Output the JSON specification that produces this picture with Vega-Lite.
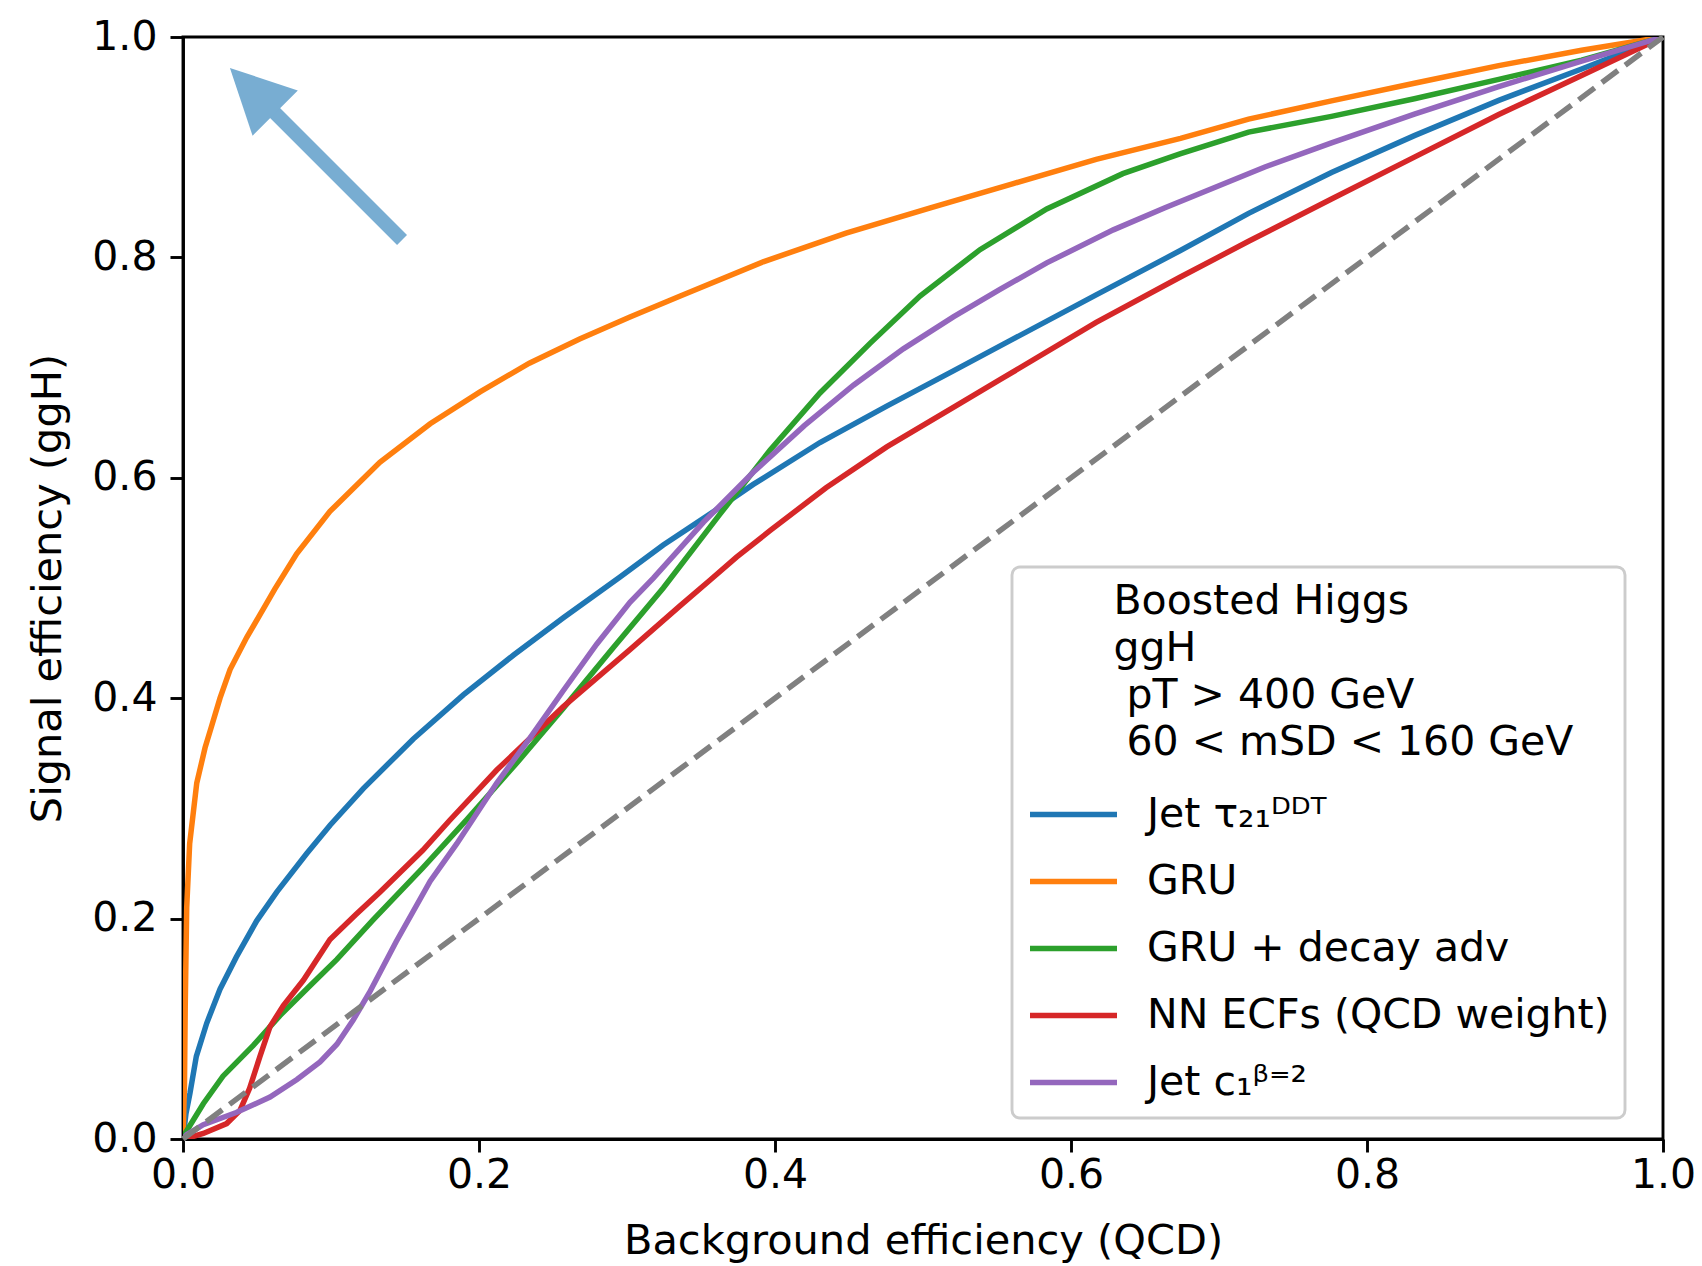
{
  "$schema": "https://vega.github.io/schema/vega-lite/v6.json",
  "width": 1480,
  "height": 1102,
  "autosize": {"type": "none"},
  "padding": {"left": 183, "top": 37, "right": 39, "bottom": 127},
  "background": "white",
  "config": {
    "font": "DejaVu Sans",
    "view": {"stroke": "black", "strokeWidth": 2.9},
    "axis": {
      "domainColor": "black", "domainWidth": 2.9,
      "tickColor": "black", "tickWidth": 2.9, "tickSize": 13,
      "labelFont": "DejaVu Sans", "labelFontSize": 41, "labelColor": "black",
      "titleFont": "DejaVu Sans", "titleFontSize": 41.5, "titleFontWeight": "normal", "titleColor": "black",
      "grid": false, "labelFlush": false, "labelOverlap": false
    },
    "legend": {
      "labelFont": "DejaVu Sans", "titleFont": "DejaVu Sans", "strokeWidth": 2.9
    }
  },
  "datasets": {
    "roc": [
      {"model": "Jet τ₂₁ᴰᴰᵀ", "x": 0, "y": 0},
      {"model": "Jet τ₂₁ᴰᴰᵀ", "x": 0.002, "y": 0.023},
      {"model": "Jet τ₂₁ᴰᴰᵀ", "x": 0.0047, "y": 0.0415},
      {"model": "Jet τ₂₁ᴰᴰᵀ", "x": 0.009, "y": 0.075},
      {"model": "Jet τ₂₁ᴰᴰᵀ", "x": 0.016, "y": 0.105},
      {"model": "Jet τ₂₁ᴰᴰᵀ", "x": 0.025, "y": 0.136},
      {"model": "Jet τ₂₁ᴰᴰᵀ", "x": 0.036, "y": 0.165},
      {"model": "Jet τ₂₁ᴰᴰᵀ", "x": 0.0498, "y": 0.198},
      {"model": "Jet τ₂₁ᴰᴰᵀ", "x": 0.0633, "y": 0.224},
      {"model": "Jet τ₂₁ᴰᴰᵀ", "x": 0.0836, "y": 0.259},
      {"model": "Jet τ₂₁ᴰᴰᵀ", "x": 0.0995, "y": 0.285},
      {"model": "Jet τ₂₁ᴰᴰᵀ", "x": 0.1218, "y": 0.318},
      {"model": "Jet τ₂₁ᴰᴰᵀ", "x": 0.1556, "y": 0.363},
      {"model": "Jet τ₂₁ᴰᴰᵀ", "x": 0.1894, "y": 0.403},
      {"model": "Jet τ₂₁ᴰᴰᵀ", "x": 0.2232, "y": 0.439},
      {"model": "Jet τ₂₁ᴰᴰᵀ", "x": 0.257, "y": 0.473},
      {"model": "Jet τ₂₁ᴰᴰᵀ", "x": 0.2953, "y": 0.51},
      {"model": "Jet τ₂₁ᴰᴰᵀ", "x": 0.3245, "y": 0.539},
      {"model": "Jet τ₂₁ᴰᴰᵀ", "x": 0.356, "y": 0.567},
      {"model": "Jet τ₂₁ᴰᴰᵀ", "x": 0.3853, "y": 0.594},
      {"model": "Jet τ₂₁ᴰᴰᵀ", "x": 0.4304, "y": 0.632},
      {"model": "Jet τ₂₁ᴰᴰᵀ", "x": 0.4755, "y": 0.665},
      {"model": "Jet τ₂₁ᴰᴰᵀ", "x": 0.5205, "y": 0.697},
      {"model": "Jet τ₂₁ᴰᴰᵀ", "x": 0.561, "y": 0.726},
      {"model": "Jet τ₂₁ᴰᴰᵀ", "x": 0.617, "y": 0.766},
      {"model": "Jet τ₂₁ᴰᴰᵀ", "x": 0.6736, "y": 0.806},
      {"model": "Jet τ₂₁ᴰᴰᵀ", "x": 0.72, "y": 0.84},
      {"model": "Jet τ₂₁ᴰᴰᵀ", "x": 0.776, "y": 0.877},
      {"model": "Jet τ₂₁ᴰᴰᵀ", "x": 0.832, "y": 0.9105},
      {"model": "Jet τ₂₁ᴰᴰᵀ", "x": 0.889, "y": 0.9425},
      {"model": "Jet τ₂₁ᴰᴰᵀ", "x": 0.945, "y": 0.971},
      {"model": "Jet τ₂₁ᴰᴰᵀ", "x": 1, "y": 1},

      {"model": "GRU", "x": 0, "y": 0},
      {"model": "GRU", "x": 0.001, "y": 0.05},
      {"model": "GRU", "x": 0.0015, "y": 0.12},
      {"model": "GRU", "x": 0.0025, "y": 0.21},
      {"model": "GRU", "x": 0.0045, "y": 0.268},
      {"model": "GRU", "x": 0.0093, "y": 0.323},
      {"model": "GRU", "x": 0.0149, "y": 0.355},
      {"model": "GRU", "x": 0.0194, "y": 0.375},
      {"model": "GRU", "x": 0.025, "y": 0.4},
      {"model": "GRU", "x": 0.0318, "y": 0.426},
      {"model": "GRU", "x": 0.043, "y": 0.455},
      {"model": "GRU", "x": 0.0543, "y": 0.481},
      {"model": "GRU", "x": 0.062, "y": 0.499},
      {"model": "GRU", "x": 0.0768, "y": 0.531},
      {"model": "GRU", "x": 0.0993, "y": 0.5695},
      {"model": "GRU", "x": 0.133, "y": 0.614},
      {"model": "GRU", "x": 0.167, "y": 0.649},
      {"model": "GRU", "x": 0.2007, "y": 0.678},
      {"model": "GRU", "x": 0.234, "y": 0.704},
      {"model": "GRU", "x": 0.268, "y": 0.726},
      {"model": "GRU", "x": 0.302, "y": 0.746},
      {"model": "GRU", "x": 0.336, "y": 0.765},
      {"model": "GRU", "x": 0.392, "y": 0.796},
      {"model": "GRU", "x": 0.448, "y": 0.822},
      {"model": "GRU", "x": 0.505, "y": 0.845},
      {"model": "GRU", "x": 0.561, "y": 0.867},
      {"model": "GRU", "x": 0.617, "y": 0.889},
      {"model": "GRU", "x": 0.674, "y": 0.908},
      {"model": "GRU", "x": 0.72, "y": 0.9255},
      {"model": "GRU", "x": 0.776, "y": 0.942},
      {"model": "GRU", "x": 0.832, "y": 0.958},
      {"model": "GRU", "x": 0.889, "y": 0.974},
      {"model": "GRU", "x": 0.945, "y": 0.988},
      {"model": "GRU", "x": 1, "y": 1},

      {"model": "GRU + decay adv", "x": 0, "y": 0},
      {"model": "GRU + decay adv", "x": 0.0014, "y": 0.005},
      {"model": "GRU + decay adv", "x": 0.0137, "y": 0.032},
      {"model": "GRU + decay adv", "x": 0.027, "y": 0.057},
      {"model": "GRU + decay adv", "x": 0.0475, "y": 0.085},
      {"model": "GRU + decay adv", "x": 0.0655, "y": 0.112},
      {"model": "GRU + decay adv", "x": 0.0858, "y": 0.139},
      {"model": "GRU + decay adv", "x": 0.104, "y": 0.163},
      {"model": "GRU + decay adv", "x": 0.1286, "y": 0.199},
      {"model": "GRU + decay adv", "x": 0.162, "y": 0.246},
      {"model": "GRU + decay adv", "x": 0.1916, "y": 0.2895},
      {"model": "GRU + decay adv", "x": 0.2254, "y": 0.341},
      {"model": "GRU + decay adv", "x": 0.257, "y": 0.391},
      {"model": "GRU + decay adv", "x": 0.2908, "y": 0.446},
      {"model": "GRU + decay adv", "x": 0.3245, "y": 0.5},
      {"model": "GRU + decay adv", "x": 0.3628, "y": 0.567},
      {"model": "GRU + decay adv", "x": 0.3966, "y": 0.625},
      {"model": "GRU + decay adv", "x": 0.4304, "y": 0.677},
      {"model": "GRU + decay adv", "x": 0.4642, "y": 0.722},
      {"model": "GRU + decay adv", "x": 0.498, "y": 0.765},
      {"model": "GRU + decay adv", "x": 0.5385, "y": 0.807},
      {"model": "GRU + decay adv", "x": 0.5836, "y": 0.844},
      {"model": "GRU + decay adv", "x": 0.635, "y": 0.876},
      {"model": "GRU + decay adv", "x": 0.6736, "y": 0.894},
      {"model": "GRU + decay adv", "x": 0.72, "y": 0.9137},
      {"model": "GRU + decay adv", "x": 0.776, "y": 0.928},
      {"model": "GRU + decay adv", "x": 0.832, "y": 0.944},
      {"model": "GRU + decay adv", "x": 0.889, "y": 0.9616},
      {"model": "GRU + decay adv", "x": 0.945, "y": 0.979},
      {"model": "GRU + decay adv", "x": 1, "y": 1},

      {"model": "NN ECFs (QCD weight)", "x": 0, "y": 0},
      {"model": "NN ECFs (QCD weight)", "x": 0.0036, "y": 0.001},
      {"model": "NN ECFs (QCD weight)", "x": 0.0137, "y": 0.005},
      {"model": "NN ECFs (QCD weight)", "x": 0.0295, "y": 0.014},
      {"model": "NN ECFs (QCD weight)", "x": 0.0385, "y": 0.026},
      {"model": "NN ECFs (QCD weight)", "x": 0.045, "y": 0.046},
      {"model": "NN ECFs (QCD weight)", "x": 0.052, "y": 0.075},
      {"model": "NN ECFs (QCD weight)", "x": 0.0588, "y": 0.102},
      {"model": "NN ECFs (QCD weight)", "x": 0.0678, "y": 0.121},
      {"model": "NN ECFs (QCD weight)", "x": 0.0813, "y": 0.144},
      {"model": "NN ECFs (QCD weight)", "x": 0.0993, "y": 0.181},
      {"model": "NN ECFs (QCD weight)", "x": 0.117, "y": 0.204},
      {"model": "NN ECFs (QCD weight)", "x": 0.133, "y": 0.224},
      {"model": "NN ECFs (QCD weight)", "x": 0.162, "y": 0.262},
      {"model": "NN ECFs (QCD weight)", "x": 0.1804, "y": 0.2895},
      {"model": "NN ECFs (QCD weight)", "x": 0.212, "y": 0.3348},
      {"model": "NN ECFs (QCD weight)", "x": 0.257, "y": 0.3924},
      {"model": "NN ECFs (QCD weight)", "x": 0.302, "y": 0.444},
      {"model": "NN ECFs (QCD weight)", "x": 0.336, "y": 0.484},
      {"model": "NN ECFs (QCD weight)", "x": 0.356, "y": 0.507},
      {"model": "NN ECFs (QCD weight)", "x": 0.374, "y": 0.528},
      {"model": "NN ECFs (QCD weight)", "x": 0.3966, "y": 0.552},
      {"model": "NN ECFs (QCD weight)", "x": 0.4345, "y": 0.591},
      {"model": "NN ECFs (QCD weight)", "x": 0.4755, "y": 0.628},
      {"model": "NN ECFs (QCD weight)", "x": 0.5205, "y": 0.664},
      {"model": "NN ECFs (QCD weight)", "x": 0.552, "y": 0.689},
      {"model": "NN ECFs (QCD weight)", "x": 0.617, "y": 0.741},
      {"model": "NN ECFs (QCD weight)", "x": 0.6736, "y": 0.782},
      {"model": "NN ECFs (QCD weight)", "x": 0.72, "y": 0.8146},
      {"model": "NN ECFs (QCD weight)", "x": 0.776, "y": 0.853},
      {"model": "NN ECFs (QCD weight)", "x": 0.832, "y": 0.891},
      {"model": "NN ECFs (QCD weight)", "x": 0.889, "y": 0.9297},
      {"model": "NN ECFs (QCD weight)", "x": 0.945, "y": 0.965},
      {"model": "NN ECFs (QCD weight)", "x": 1, "y": 1},

      {"model": "Jet c₁ᵝ⁼²", "x": 0, "y": 0},
      {"model": "Jet c₁ᵝ⁼²", "x": 0.0025, "y": 0.004},
      {"model": "Jet c₁ᵝ⁼²", "x": 0.0137, "y": 0.013},
      {"model": "Jet c₁ᵝ⁼²", "x": 0.036, "y": 0.024},
      {"model": "Jet c₁ᵝ⁼²", "x": 0.0588, "y": 0.038},
      {"model": "Jet c₁ᵝ⁼²", "x": 0.077, "y": 0.054},
      {"model": "Jet c₁ᵝ⁼²", "x": 0.0926, "y": 0.07},
      {"model": "Jet c₁ᵝ⁼²", "x": 0.104, "y": 0.086},
      {"model": "Jet c₁ᵝ⁼²", "x": 0.115, "y": 0.108},
      {"model": "Jet c₁ᵝ⁼²", "x": 0.126, "y": 0.133},
      {"model": "Jet c₁ᵝ⁼²", "x": 0.144, "y": 0.179},
      {"model": "Jet c₁ᵝ⁼²", "x": 0.167, "y": 0.234},
      {"model": "Jet c₁ᵝ⁼²", "x": 0.185, "y": 0.268},
      {"model": "Jet c₁ᵝ⁼²", "x": 0.212, "y": 0.323},
      {"model": "Jet c₁ᵝ⁼²", "x": 0.2345, "y": 0.364},
      {"model": "Jet c₁ᵝ⁼²", "x": 0.257, "y": 0.407},
      {"model": "Jet c₁ᵝ⁼²", "x": 0.2795, "y": 0.449},
      {"model": "Jet c₁ᵝ⁼²", "x": 0.302, "y": 0.487},
      {"model": "Jet c₁ᵝ⁼²", "x": 0.3178, "y": 0.509},
      {"model": "Jet c₁ᵝ⁼²", "x": 0.3516, "y": 0.5596},
      {"model": "Jet c₁ᵝ⁼²", "x": 0.3853, "y": 0.605},
      {"model": "Jet c₁ᵝ⁼²", "x": 0.4198, "y": 0.6473},
      {"model": "Jet c₁ᵝ⁼²", "x": 0.453, "y": 0.684},
      {"model": "Jet c₁ᵝ⁼²", "x": 0.4867, "y": 0.717},
      {"model": "Jet c₁ᵝ⁼²", "x": 0.5205, "y": 0.746},
      {"model": "Jet c₁ᵝ⁼²", "x": 0.552, "y": 0.771},
      {"model": "Jet c₁ᵝ⁼²", "x": 0.5836, "y": 0.795},
      {"model": "Jet c₁ᵝ⁼²", "x": 0.6286, "y": 0.825},
      {"model": "Jet c₁ᵝ⁼²", "x": 0.6635, "y": 0.845},
      {"model": "Jet c₁ᵝ⁼²", "x": 0.731, "y": 0.882},
      {"model": "Jet c₁ᵝ⁼²", "x": 0.776, "y": 0.904},
      {"model": "Jet c₁ᵝ⁼²", "x": 0.832, "y": 0.93},
      {"model": "Jet c₁ᵝ⁼²", "x": 0.889, "y": 0.955},
      {"model": "Jet c₁ᵝ⁼²", "x": 0.945, "y": 0.978},
      {"model": "Jet c₁ᵝ⁼²", "x": 1, "y": 1}
    ],
    "diag": [{"x": 0, "y": 0}, {"x": 1, "y": 1}],
    "shaft": [{"x": 0.148, "y": 0.8158}, {"x": 0.0588, "y": 0.9356}],
    "head": [{"x": 0.047, "y": 0.9514}]
  },
  "encoding": {
    "x": {
      "field": "x", "type": "quantitative",
      "scale": {"domain": [0, 1], "nice": false, "zero": false},
      "axis": {"values": [0, 0.2, 0.4, 0.6, 0.8, 1.0], "format": ".1f", "labelPadding": 3, "titlePadding": 25, "title": "Background efficiency (QCD)"}
    },
    "y": {
      "field": "y", "type": "quantitative",
      "scale": {"domain": [0, 1], "nice": false, "zero": false},
      "axis": {"values": [0, 0.2, 0.4, 0.6, 0.8, 1.0], "format": ".1f", "labelPadding": 13, "titlePadding": 22, "title": "Signal efficiency (ggH)"}
    }
  },
  "layer": [
    {
      "data": {"name": "roc"},
      "mark": {"type": "line", "strokeWidth": 5.5, "clip": true},
      "encoding": {
        "color": {
          "field": "model", "type": "nominal",
          "scale": {
            "domain": ["Jet τ₂₁ᴰᴰᵀ", "GRU", "GRU + decay adv", "NN ECFs (QCD weight)", "Jet c₁ᵝ⁼²"],
            "range": ["#1f77b4", "#ff7f0e", "#2ca02c", "#d62728", "#9467bd"]
          },
          "legend": {
            "orient": "none", "legendX": 829, "legendY": 530,
            "title": ["\u200b\u2007\u2007\u2007\u2009Boosted Higgs", "\u200b\u2007\u2007\u2007\u2009ggH", "\u200b\u2007\u2007\u2007\u2009\u00a0pT > 400 GeV", "\u200b\u2007\u2007\u2007\u2009\u00a060 < mSD < 160 GeV"],
            "titleFontSize": 41, "titleFontWeight": "normal", "titleColor": "black",
            "titleAlign": "left", "titleAnchor": "start", "titleLineHeight": 47, "titlePadding": 4, "titleLimit": 2000,
            "labelFontSize": 41, "labelColor": "black", "labelOffset": 27, "labelLimit": 2000,
            "symbolType": "stroke", "symbolSize": 7569, "symbolStrokeWidth": 5.5,
            "rowPadding": -9, "padding": 15,
            "strokeColor": "#cccccc", "cornerRadius": 8, "fillColor": "rgba(255,255,255,0.8)"
          }
        }
      }
    },
    {
      "data": {"name": "diag"},
      "mark": {"type": "line", "stroke": "#808080", "strokeWidth": 5.5, "strokeDash": [20, 9]},
      "encoding": {}
    },
    {
      "data": {"name": "shaft"},
      "mark": {"type": "line", "stroke": "#78add2", "strokeWidth": 14, "strokeCap": "butt"},
      "encoding": {}
    },
    {
      "data": {"name": "head"},
      "mark": {"type": "point", "shape": "M0,-1L1,1L-1,1Z", "size": 4096, "angle": -45, "filled": true, "fill": "#78add2", "opacity": 1, "strokeWidth": 0},
      "encoding": {}
    }
  ]
}
